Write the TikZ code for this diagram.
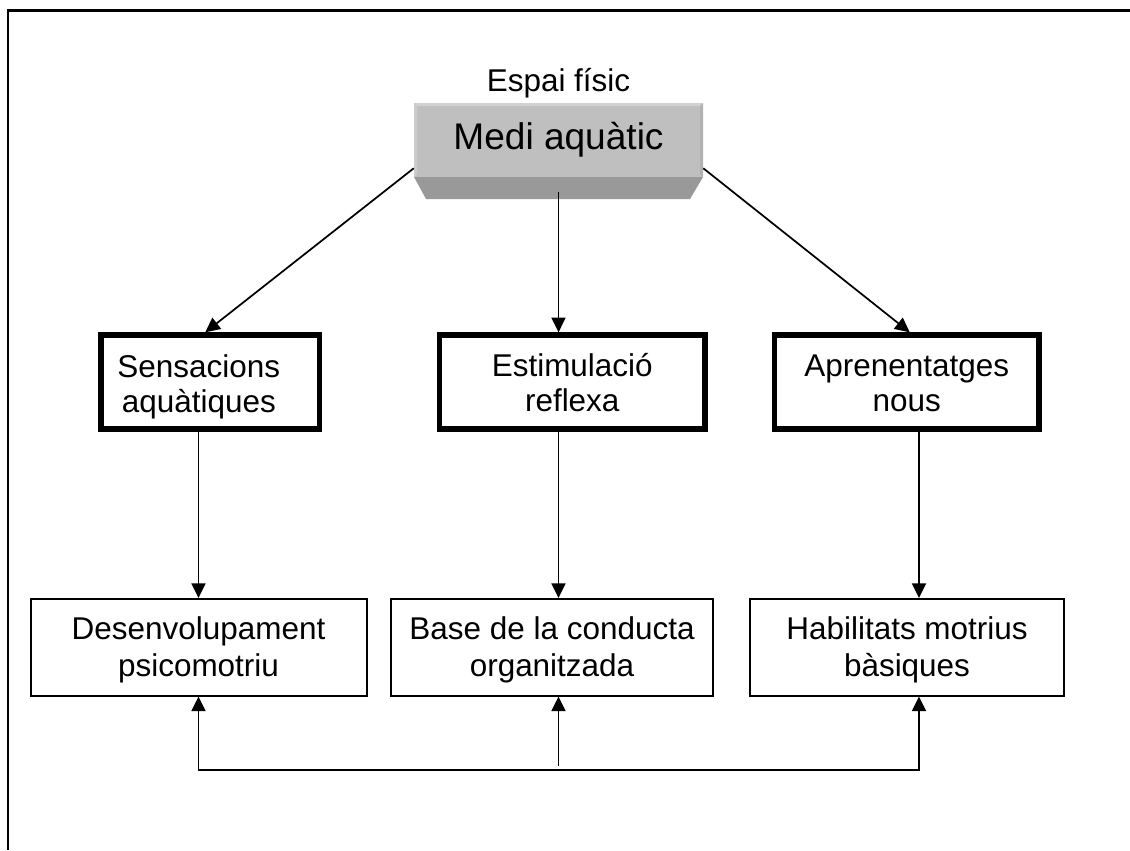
\documentclass[tikz,border=0pt]{standalone}
\usepackage{fontspec}
\setmainfont{Liberation Sans}
\usetikzlibrary{arrows.meta,calc}

\begin{document}
\begin{tikzpicture}[x=0.75pt,y=-0.75pt,
  txt/.style={font=\fontsize{23.6pt}{26.5pt}\selectfont, align=center, inner sep=0pt},
  lowtxt/.style={txt, font=\fontsize{23.6pt}{27.75pt}\selectfont},
  heavybox/.style={draw, line width=4pt, inner sep=0pt, minimum height={94*0.75pt}},
  lightbox/.style={draw, line width=1.5pt, inner sep=0pt, minimum height={96.5*0.75pt}},
  arr/.style={line width=1.3pt, -{Triangle[length=11pt,width=10.5pt]}},
  dblarr/.style={line width=1.3pt, {Triangle[length=11pt,width=10.5pt]}-{Triangle[length=11pt,width=10.5pt]}}
]
\useasboundingbox (0,0) rectangle (1130,850);

% page frame (top and left edges)
\draw[line width=1.9pt] (8,850) -- (8,10.3) -- (1130,10.3);

% heading
\node[txt, anchor=base] (espai) at (558.5,91) {Espai físic};

% bevelled title block
\fill[black!40] (414,177) -- (703,177) -- (690,199) -- (426,199) -- cycle;
\node[txt, fill=black!25, minimum width={289*0.75pt}, minimum height={74*0.75pt},
      font=\fontsize{27.8pt}{32pt}\selectfont] (medi) at (558.5,140) {Medi aquàtic};
\fill[black!18] (414,103) -- (703,103) -- (700,106) -- (417,106) -- cycle;
\fill[black!20] (414,103) -- (417,106) -- (417,174) -- (414,177) -- cycle;
\fill[black!30] (703,103) -- (700,106) -- (700,174) -- (703,177) -- cycle;

% middle row
\node[heavybox, minimum width={218.5*0.75pt},
      label={[txt, xshift=-8.6pt, yshift=-3.75pt]center:{Sensacions\\aquàtiques}}] (sens) at (210.25,382) {};
\node[heavybox, minimum width={265.5*0.75pt},
      label={[txt, yshift=-0.65pt]center:{Estimulació\\reflexa}}] (estim) at (572.25,382) {};
\node[heavybox, minimum width={264.5*0.75pt},
      label={[txt, yshift=-1.05pt]center:{Aprenentatges\\nous}}] (aprn) at (906.75,382) {};

% bottom row
\node[lightbox, minimum width={336*0.75pt},
      label={[lowtxt, yshift=-1.9pt]center:{Desenvolupament\\psicomotriu}}] (desen) at (198.5,647.25) {};
\node[lightbox, minimum width={322*0.75pt},
      label={[lowtxt, yshift=-1.9pt]center:{Base de la conducta\\organitzada}}] (base) at (552,647.25) {};
\node[lightbox, minimum width={314*0.75pt},
      label={[lowtxt, yshift=-1.9pt]center:{Habilitats motrius\\bàsiques}}] (habil) at (907,647.25) {};

% from the title block to the middle row
\draw[arr] ($(medi.south west)+(0,-9)$) -- ($(sens.north)+(-5,0)$);
\draw[arr] ($(medi.south)+(0,15)$) -- (medi.south |- estim.north);
\draw[arr] ($(medi.south east)+(0,-9)$) -- ($(aprn.north)+(3,0)$);

% from the middle row to the bottom row
\coordinate (rx) at ($(habil.north)+(12,0)$);
\draw[arr] (desen.north |- sens.south) -- (desen.north);
\draw[arr] (medi.south |- estim.south) -- (medi.south |- base.north);
\draw[arr] (rx |- aprn.south) -- (rx);

% feedback line under the bottom row
\coordinate (hL) at ($(desen.south)+(0,73.5)$);
\coordinate (hR) at ($(rx |- habil.south)+(0,73.5)$);
\coordinate (hM) at ($(medi.south |- base.south)+(0,69.5)$);
\draw[dblarr] (desen.south) -- (hL) -- (hR) -- (rx |- habil.south);
\draw[arr] (hM) -- (medi.south |- base.south);
\end{tikzpicture}
\end{document}
